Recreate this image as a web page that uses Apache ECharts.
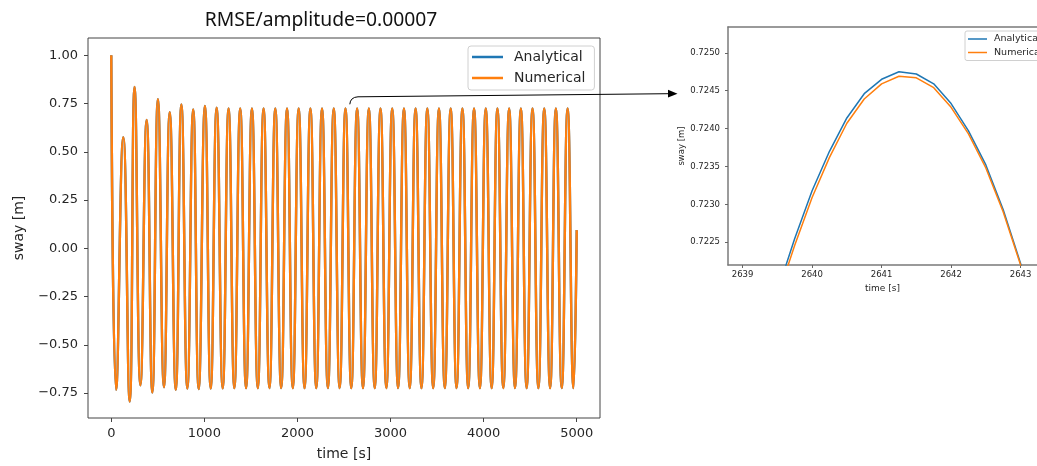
<!DOCTYPE html>
<html>
<head>
<meta charset="utf-8">
<script src="https://cdn.jsdelivr.net/npm/echarts@6/dist/echarts.min.js"></script>
<style>
html,body{margin:0;padding:0;background:#fff;}
#c{width:1037px;height:466px;}
</style>
</head>
<body>
<div id="c"></div>
<script>
// ---- data ----
// main plot: turning points (peaks / troughs) of the sway signal
var mainTime = [0,52,129,198,250,313,380,441,501,566,628,693,753,817,880,939,1006,1068,1132,1197,
  1260,1322,1385,1448,1511,1574,1636,1699,1762,1825,1888,1950,2013,2076,2139,2202,2264,2327,2390,2453,
  2516,2578,2641,2704,2767,2830,2892,2955,3018,3081,3144,3206,3269,3332,3395,3458,3520,3583,3646,3709,
  3772,3834,3897,3960,4023,4086,4148,4211,4274,4337,4400,4462,4525,4588,4651,4714,4776,4839,4902,4965,5000];
var mainAnalytical = [1.000,-0.734,0.576,-0.794,0.836,-0.710,0.665,-0.748,0.772,-0.720,0.705,-0.734,0.745,-0.727,0.719,-0.730,0.737,-0.727,0.728,-0.726,
  0.7247,-0.7247,0.7247,-0.7247,0.7247,-0.7247,0.7247,-0.7247,0.7247,-0.7247,0.7247,-0.7247,0.7247,-0.7247,0.7247,-0.7247,0.7247,-0.7247,0.7247,-0.7247,
  0.7247,-0.7247,0.7247,-0.7247,0.7247,-0.7247,0.7247,-0.7247,0.7247,-0.7247,0.7247,-0.7247,0.7247,-0.7247,0.7247,-0.7247,0.7247,-0.7247,0.7247,-0.7247,
  0.7247,-0.7247,0.7247,-0.7247,0.7247,-0.7247,0.7247,-0.7247,0.7247,-0.7247,0.7247,-0.7247,0.7247,-0.7247,0.7247,-0.7247,0.7247,-0.7247,0.7247,-0.7247,0.094];
var mainNumerical = [1.000,-0.734,0.576,-0.794,0.836,-0.710,0.665,-0.748,0.772,-0.720,0.705,-0.734,0.745,-0.727,0.719,-0.730,0.737,-0.727,0.728,-0.726,
  0.7246,-0.7246,0.7246,-0.7246,0.7246,-0.7246,0.7246,-0.7246,0.7246,-0.7246,0.7246,-0.7246,0.7246,-0.7246,0.7246,-0.7246,0.7246,-0.7246,0.7246,-0.7246,
  0.7246,-0.7246,0.7246,-0.7246,0.7246,-0.7246,0.7246,-0.7246,0.7246,-0.7246,0.7246,-0.7246,0.7246,-0.7246,0.7246,-0.7246,0.7246,-0.7246,0.7246,-0.7246,
  0.7246,-0.7246,0.7246,-0.7246,0.7246,-0.7246,0.7246,-0.7246,0.7246,-0.7246,0.7246,-0.7246,0.7246,-0.7246,0.7246,-0.7246,0.7246,-0.7246,0.7246,-0.7246,0.094];

// zoomed plot around the peak near t = 2641 s
var zoomTime = [2639.5,2639.75,2640.0,2640.25,2640.5,2640.75,2641.0,2641.25,2641.5,2641.75,2642.0,2642.25,2642.5,2642.75,2643.0,2643.25];
var zoomAnalytical = [0.72185,0.72255,0.72318,0.72370,0.72414,0.72446,0.72465,0.72475,0.72472,0.72459,0.72433,0.72397,0.72352,0.72293,0.72222,0.72140];
var zoomNumerical  = [0.72177,0.72246,0.72309,0.72362,0.72407,0.72439,0.72459,0.72469,0.72467,0.72454,0.72428,0.72393,0.72348,0.72290,0.72220,0.72139];

// tick labels
var mainXTicks = [0,1000,2000,3000,4000,5000];
var mainYTicks = [-0.75,-0.50,-0.25,0.00,0.25,0.50,0.75,1.00];
var zoomXTicks = [2639,2640,2641,2642,2643];
var zoomYTicks = [0.7225,0.7230,0.7235,0.7240,0.7245,0.7250];

var BLUE = '#1f77b4', ORANGE = '#ff7f0e', TXT = '#262626';
var FONT = 'DejaVu Sans';

function pairs(xs, ys){ return xs.map(function(x,i){ return [x, ys[i]]; }); }
function minus(s){ return s.replace('-', '\u2212'); }

var chart = echarts.init(document.getElementById('c'), null, {renderer:'canvas', devicePixelRatio:1});

function axisBase(){
  return {
    axisLine:{show:false, onZero:false},
    splitLine:{show:false},
    axisTick:{show:true, inside:false, lineStyle:{color:'#444', width:1}},
    nameTextStyle:{color:TXT, fontFamily:FONT},
    axisLabel:{color:TXT, fontFamily:FONT}
  };
}

var xMain = axisBase();
Object.assign(xMain, {type:'value', gridIndex:0, min:-250, max:5250, name:'time [s]', nameLocation:'middle', nameGap:29});
xMain.nameTextStyle.fontSize = 14;
xMain.axisTick.length = 4; xMain.axisTick.customValues = mainXTicks;
Object.assign(xMain.axisLabel, {fontSize:13, margin:9, customValues:mainXTicks, formatter:function(v){return String(Math.round(v));}});

var yMain = axisBase();
Object.assign(yMain, {type:'value', gridIndex:0, min:-0.8795, max:1.0895, name:'sway [m]', nameLocation:'middle', nameGap:62});
yMain.nameTextStyle.fontSize = 14;
yMain.axisTick.length = 4; yMain.axisTick.customValues = mainYTicks;
Object.assign(yMain.axisLabel, {fontSize:13, margin:10, customValues:mainYTicks, formatter:function(v){return minus(v.toFixed(2));}});

var ZCOL = '#7a7a7a';
var xZoom = axisBase();
Object.assign(xZoom, {type:'value', gridIndex:1, min:2638.79, max:2643.236, name:'time [s]', nameLocation:'middle', nameGap:17});
xZoom.axisLine = {show:true, onZero:false, lineStyle:{color:ZCOL, width:1.5}};
xZoom.nameTextStyle.fontSize = 9;
xZoom.axisTick.length = 3; xZoom.axisTick.customValues = zoomXTicks; xZoom.axisTick.lineStyle = {color:'#666', width:1};
Object.assign(xZoom.axisLabel, {fontSize:8.5, margin:5, customValues:zoomXTicks, formatter:function(v){return String(Math.round(v));}});

var xZoomTop = {type:'value', gridIndex:1, position:'top', min:2638.79, max:2643.236,
  axisLine:{show:true, onZero:false, lineStyle:{color:ZCOL, width:1.5}},
  axisTick:{show:false}, axisLabel:{show:false}, splitLine:{show:false}};

var yZoom = axisBase();
Object.assign(yZoom, {type:'value', gridIndex:1, min:0.7222, max:0.72534, name:'sway [m]', nameLocation:'middle', nameGap:40});
yZoom.axisLine = {show:true, onZero:false, lineStyle:{color:ZCOL, width:1.5}};
yZoom.nameTextStyle.fontSize = 8.5;
yZoom.axisTick.length = 3; yZoom.axisTick.customValues = zoomYTicks; yZoom.axisTick.lineStyle = {color:'#666', width:1};
Object.assign(yZoom.axisLabel, {fontSize:8.5, margin:8, customValues:zoomYTicks, formatter:function(v){return v.toFixed(4);}});

var option = {
  animation:false,
  backgroundColor:'#fff',
  title:{
    text:'RMSE/amplitude=0.00007', left:316, top:6, textAlign:'center',
    textStyle:{fontFamily:'Noto Sans', fontSize:19.3, fontWeight:'normal', color:'#111'}
  },
  grid:[
    {left:88, top:38, width:512, height:381, show:true, borderColor:'#444', borderWidth:1, backgroundColor:'transparent'},
    {left:728, top:27, width:309, height:238, show:false}
  ],
  xAxis:[xMain, xZoom, xZoomTop],
  yAxis:[yMain, yZoom],
  legend:[
    {
      data:['Analytical','Numerical'], orient:'vertical', left:468, top:46,
      icon:'rect', itemWidth:31, itemHeight:2.5, itemGap:7,
      padding:[4,9,5,4], borderColor:'#d0d0d0', borderWidth:1, borderRadius:3,
      backgroundColor:'rgba(255,255,255,0.85)', selectedMode:false,
      textStyle:{fontFamily:FONT, fontSize:14, color:TXT, padding:[0,0,0,6]}
    },
    {
      data:['Analytical','Numerical'], orient:'vertical', left:965, top:31,
      icon:'rect', itemWidth:19, itemHeight:1.5, itemGap:3.5,
      padding:[3,6,3,3], borderColor:'#d0d0d0', borderWidth:1, borderRadius:2,
      backgroundColor:'rgba(255,255,255,0.85)', selectedMode:false,
      textStyle:{fontFamily:FONT, fontSize:9.5, color:TXT, padding:[0,0,0,2]}
    }
  ],
  series:[
    {name:'Analytical', type:'line', xAxisIndex:0, yAxisIndex:0, data:pairs(mainTime, mainAnalytical),
     showSymbol:false, smooth:true, lineStyle:{color:BLUE, width:2.4}, itemStyle:{color:BLUE}},
    {name:'Numerical', type:'line', xAxisIndex:0, yAxisIndex:0, data:pairs(mainTime, mainNumerical),
     showSymbol:false, smooth:true, lineStyle:{color:ORANGE, width:2.4}, itemStyle:{color:ORANGE}},
    {name:'Analytical', type:'line', xAxisIndex:1, yAxisIndex:1, data:pairs(zoomTime, zoomAnalytical),
     showSymbol:false, lineStyle:{color:BLUE, width:1.5}, itemStyle:{color:BLUE}},
    {name:'Numerical', type:'line', xAxisIndex:1, yAxisIndex:1, data:pairs(zoomTime, zoomNumerical),
     showSymbol:false, lineStyle:{color:ORANGE, width:1.5}, itemStyle:{color:ORANGE}}
  ],
  graphic:[
    {type:'bezierCurve', z:100, shape:{x1:349.8, y1:104.3, cpx1:350.3, cpy1:97.2, x2:358, y2:96.8},
     style:{fill:null, stroke:'#000', lineWidth:1}},
    {type:'line', z:100, shape:{x1:358, y1:96.8, x2:669, y2:93.7},
     style:{stroke:'#000', lineWidth:1}},
    {type:'polygon', z:100, shape:{points:[[677.5,93.7],[668,89.8],[668,97.6]]},
     style:{fill:'#000'}}
  ]
};
chart.setOption(option);
</script>
</body>
</html>
